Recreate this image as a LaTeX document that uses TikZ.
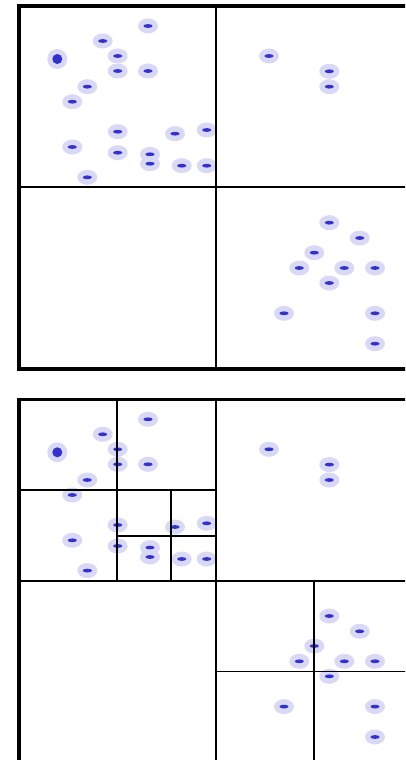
\documentclass[tikz,border=0pt]{standalone}
\definecolor{haloc}{HTML}{D9D9F5}
\definecolor{dotc}{HTML}{3333CC}
\begin{document}
\begin{tikzpicture}[x=1pt,y=-1pt,
  frame/.style={line width=3.6pt,black},
  split/.style={line width=1.8pt,black},
  halo/.style={fill=haloc},
  core/.style={fill=dotc}]
\useasboundingbox (0,0) rectangle (405,760);
\clip (0,0) rectangle (405,760);
\fill[white] (0,0) rectangle (405,760);
\def\pts{148/26, 102.7/41, 117.7/56, 117.7/71, 148/71, 87.3/86.7, 72.3/101.7,
  117.7/131.7, 175/133.7, 206.7/130, 72.3/147, 117.7/152.7, 150/154.3, 150/163.7,
  181.7/165.7, 206.7/165.7, 87.3/177.3, 269/56, 329.3/71.3, 329.3/86.7,
  329.3/222.7, 359.7/238, 314.3/252.7, 299.3/268, 344.3/268, 375/268, 329.3/283,
  284/313.3, 375/313.3, 375/343.7}
\foreach \dy in {0,393.3}{
  \begin{scope}[shift={(0,\dy)}]
    \foreach \px/\py in \pts {
      \fill[halo] (\px,\py) ellipse (10 and 7.5);
      \fill[core] (\px,\py) ellipse (4.6 and 1.9);
    }
    \fill[halo] (57.3,59) circle (10);
    \fill[core] (57.3,59) circle (5);
  \end{scope}
}
% top panel
\coordinate (tA) at (18.7,6);
\coordinate (tB) at (412.7,368.7);
\draw[split] (215.7,6) -- (215.7,368.7);
\draw[split] (18.7,187.35) -- (412.7,187.35);
\draw[frame] (tA) rectangle (tB);
% bottom panel
\coordinate (bA) at (18.7,399.3);
\coordinate (bB) at (412.7,762);
\draw[split] (215.7,399.3) -- (215.7,762);
\draw[split] (18.7,580.7) -- (412.7,580.7);
\draw[split] (117.2,399.3) -- (117.2,580.7);
\draw[split] (18.7,490) -- (215.7,490);
\draw[split] (171,490) -- (171,580.7);
\draw[split] (117.2,535.7) -- (215.7,535.7);
\draw[split] (314.2,580.7) -- (314.2,762);
\draw[split] (215.7,671.4) -- (412.7,671.4);
\draw[frame] (bA) rectangle (bB);
\end{tikzpicture}
\end{document}
